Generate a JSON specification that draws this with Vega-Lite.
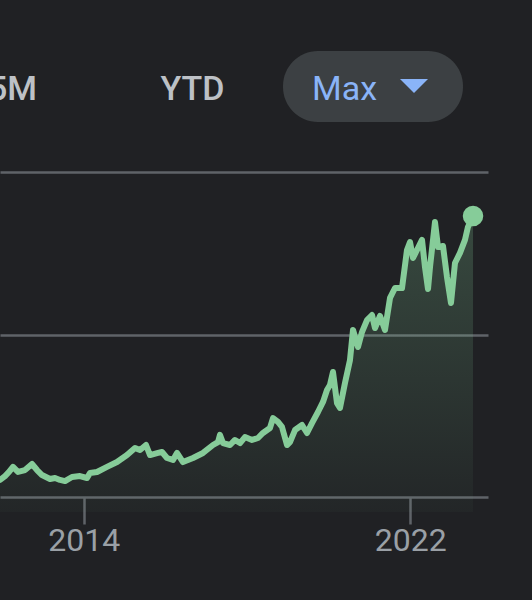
{
  "$schema": "https://vega.github.io/schema/vega-lite/v6.json",
  "width": 488,
  "height": 512,
  "autosize": {"type": "none"},
  "padding": {"left": 0, "top": 0, "right": 44, "bottom": 88},
  "background": "#202124",
  "config": {"view": {"stroke": null}, "font": "Roboto"},
  "data": {"values": [
    {"t": 2011.947, "v": 10.5}, {"t": 2012.070, "v": 12.9}, {"t": 2012.168, "v": 15.4}, {"t": 2012.266, "v": 18.5},
    {"t": 2012.388, "v": 15.4}, {"t": 2012.560, "v": 16.6}, {"t": 2012.731, "v": 20.3}, {"t": 2012.854, "v": 16.6},
    {"t": 2012.976, "v": 13.5}, {"t": 2013.172, "v": 11.1}, {"t": 2013.295, "v": 11.7}, {"t": 2013.417, "v": 10.5},
    {"t": 2013.540, "v": 9.8}, {"t": 2013.711, "v": 12.3}, {"t": 2013.907, "v": 12.9}, {"t": 2014.079, "v": 11.7},
    {"t": 2014.152, "v": 14.8}, {"t": 2014.324, "v": 15.4}, {"t": 2014.569, "v": 18.5}, {"t": 2014.814, "v": 21.5},
    {"t": 2015.059, "v": 25.8}, {"t": 2015.255, "v": 30.2}, {"t": 2015.378, "v": 28.9}, {"t": 2015.525, "v": 32.0},
    {"t": 2015.623, "v": 25.8}, {"t": 2015.819, "v": 27.1}, {"t": 2015.917, "v": 27.7}, {"t": 2016.039, "v": 24.0},
    {"t": 2016.186, "v": 22.8}, {"t": 2016.284, "v": 27.1}, {"t": 2016.431, "v": 21.5}, {"t": 2016.676, "v": 24.0},
    {"t": 2016.921, "v": 27.1}, {"t": 2017.166, "v": 32.0}, {"t": 2017.289, "v": 33.8}, {"t": 2017.338, "v": 38.2},
    {"t": 2017.411, "v": 33.2}, {"t": 2017.583, "v": 32.0}, {"t": 2017.705, "v": 35.1}, {"t": 2017.828, "v": 33.2},
    {"t": 2017.950, "v": 36.9}, {"t": 2018.122, "v": 35.1}, {"t": 2018.269, "v": 36.3}, {"t": 2018.391, "v": 39.4},
    {"t": 2018.563, "v": 42.5}, {"t": 2018.637, "v": 48.6}, {"t": 2018.759, "v": 46.2}, {"t": 2018.857, "v": 43.1},
    {"t": 2018.980, "v": 32.0}, {"t": 2019.053, "v": 33.8}, {"t": 2019.176, "v": 41.2}, {"t": 2019.347, "v": 44.3},
    {"t": 2019.470, "v": 39.4}, {"t": 2019.592, "v": 45.5}, {"t": 2019.739, "v": 52.3}, {"t": 2019.862, "v": 58.5},
    {"t": 2019.960, "v": 65.8}, {"t": 2020.033, "v": 68.9}, {"t": 2020.107, "v": 76.9}, {"t": 2020.205, "v": 57.8},
    {"t": 2020.278, "v": 54.8}, {"t": 2020.401, "v": 70.2}, {"t": 2020.523, "v": 84.3}, {"t": 2020.597, "v": 102.8},
    {"t": 2020.719, "v": 92.3}, {"t": 2020.817, "v": 101.5}, {"t": 2020.940, "v": 108.9}, {"t": 2021.063, "v": 112.0},
    {"t": 2021.136, "v": 104.0}, {"t": 2021.259, "v": 111.4}, {"t": 2021.381, "v": 102.8}, {"t": 2021.504, "v": 122.5},
    {"t": 2021.626, "v": 128.6}, {"t": 2021.798, "v": 128.6}, {"t": 2021.920, "v": 152.0}, {"t": 2021.994, "v": 156.9},
    {"t": 2022.067, "v": 147.1}, {"t": 2022.165, "v": 152.0}, {"t": 2022.288, "v": 158.2}, {"t": 2022.361, "v": 141.5},
    {"t": 2022.435, "v": 128.0}, {"t": 2022.484, "v": 141.5}, {"t": 2022.606, "v": 169.2}, {"t": 2022.680, "v": 153.8},
    {"t": 2022.802, "v": 154.5}, {"t": 2022.900, "v": 135.4}, {"t": 2022.998, "v": 119.4}, {"t": 2023.096, "v": 144.0},
    {"t": 2023.219, "v": 150.2}, {"t": 2023.341, "v": 158.2}, {"t": 2023.414, "v": 166.2}, {"t": 2023.538, "v": 172.9}
  ]},
  "layer": [
    {
      "mark": {"type": "area", "color": {"gradient": "linear", "x1": 0, "y1": 0, "x2": 0, "y2": 1,
        "stops": [{"offset": 0, "color": "rgba(129,201,149,0.24)"}, {"offset": 1, "color": "rgba(129,201,149,0.03)"}]}},
      "encoding": {
        "x": {"field": "t", "type": "quantitative",
          "scale": {"domain": [2011.947, 2023.905], "nice": false, "zero": false},
          "axis": {"values": [2014, 2022], "format": "d", "title": null, "grid": false, "domain": false,
            "offset": -15, "tickSize": 27, "tickWidth": 2.5, "tickColor": "#5f6368",
            "labelFontSize": 32, "labelColor": "#9aa0a6", "labelPadding": 1, "labelFont": "Roboto"}},
        "y": {"field": "v", "type": "quantitative",
          "scale": {"domain": [-9.23, 305.85], "nice": false, "zero": false},
          "axis": {"values": [0, 100, 200], "grid": true, "gridColor": "#5f6368", "gridWidth": 2.5,
            "domain": false, "ticks": false, "labels": false, "title": null}},
        "y2": {"datum": -9.23}
      }
    },
    {
      "mark": {"type": "line", "color": "#86cc99", "strokeWidth": 6, "strokeJoin": "round", "strokeCap": "round"},
      "encoding": {
        "x": {"field": "t", "type": "quantitative"},
        "y": {"field": "v", "type": "quantitative"}
      }
    },
    {
      "transform": [{"filter": "datum.t > 2023.5"}],
      "mark": {"type": "point", "filled": true, "color": "#86cc99", "opacity": 1, "size": 420},
      "encoding": {
        "x": {"field": "t", "type": "quantitative"},
        "y": {"field": "v", "type": "quantitative"}
      }
    },
    {
      "data": {"values": [{"label": "Max"}]},
      "mark": {"type": "rect", "color": "#3c4043", "cornerRadius": 35},
      "encoding": {
        "x": {"datum": 2018.882, "type": "quantitative"},
        "x2": {"datum": 2023.292},
        "y": {"datum": 274.46, "type": "quantitative"},
        "y2": {"datum": 230.77}
      }
    },
    {
      "data": {"values": [{"label": "5M"}]},
      "mark": {"type": "text", "align": "right", "baseline": "alphabetic", "fontSize": 34, "font": "Roboto", "fontWeight": 500, "color": "#bdc1c6"},
      "encoding": {
        "x": {"datum": 2012.854, "type": "quantitative"},
        "y": {"datum": 244.3, "type": "quantitative"},
        "text": {"field": "label"}
      }
    },
    {
      "data": {"values": [{"label": "YTD"}]},
      "mark": {"type": "text", "align": "center", "baseline": "alphabetic", "fontSize": 34, "font": "Roboto", "fontWeight": 500, "color": "#bdc1c6"},
      "encoding": {
        "x": {"datum": 2016.664, "type": "quantitative"},
        "y": {"datum": 244.3, "type": "quantitative"},
        "text": {"field": "label"}
      }
    },
    {
      "data": {"values": [{"label": "Max"}]},
      "mark": {"type": "text", "align": "center", "baseline": "alphabetic", "fontSize": 34, "font": "Roboto", "fontWeight": 400, "color": "#8ab4f8"},
      "encoding": {
        "x": {"datum": 2020.389, "type": "quantitative"},
        "y": {"datum": 244.3, "type": "quantitative"},
        "text": {"field": "label"}
      }
    },
    {
      "data": {"values": [{"label": "menu"}]},
      "mark": {"type": "point", "shape": "M-1,-0.5L1,-0.5L0,0.5Z", "filled": true, "opacity": 1, "color": "#8ab4f8", "size": 784},
      "encoding": {
        "x": {"datum": 2022.092, "type": "quantitative"},
        "y": {"datum": 252.9, "type": "quantitative"}
      }
    }
  ]
}
